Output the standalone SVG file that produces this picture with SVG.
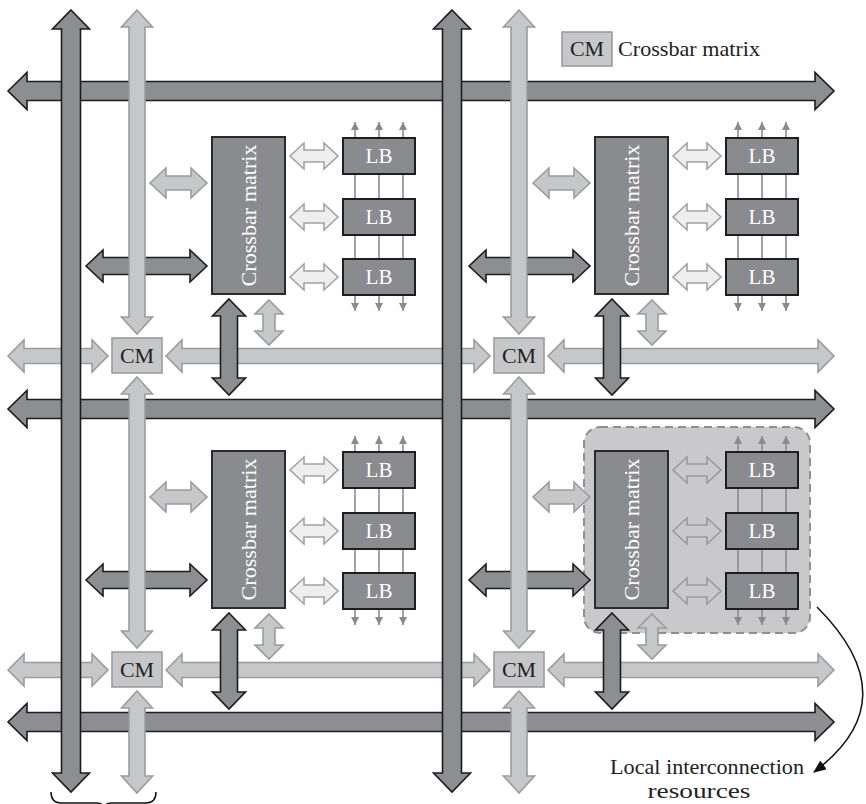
<svg xmlns="http://www.w3.org/2000/svg" width="866" height="804" viewBox="0 0 866 804">
<style>
.bus{fill:#8d8e91;stroke:#1c1c1c;stroke-width:1.6;stroke-linejoin:miter}
.lt{fill:#c6c7c9;stroke:#9b9c9e;stroke-width:1.6}
.wh{fill:#eeeeef;stroke:#a2a2a4;stroke-width:1.6}
.wh4{fill:#c9c9cb;stroke:#9a9a9c;stroke-width:1.6}
.dk{fill:#8d8e91;stroke:#1c1c1c;stroke-width:1.6}
.lbl{stroke:#8b8b8d;stroke-width:1.6;fill:none;marker-start:url(#sm);marker-end:url(#sm)}
.xb{fill:#8a8b8e;stroke:#2a2a2a;stroke-width:2}
.lb{fill:#8a8b8e;stroke:#1e1e1e;stroke-width:2}
.cm{fill:#c6c7c9;stroke:#9b9c9e;stroke-width:1.6}
.tw{font-family:"Liberation Serif",serif;fill:#ffffff;text-anchor:middle}
.tk{font-family:"Liberation Serif",serif;fill:#222222}
</style>
<defs>
<marker id="sm" viewBox="0 0 8 8" refX="8" refY="4" markerWidth="8" markerHeight="8" markerUnits="userSpaceOnUse" orient="auto-start-reverse"><path d="M0,0 L8,4 L0,8 z" fill="#8b8b8d"/></marker>
<marker id="ca" viewBox="0 0 12 10" refX="11" refY="5" markerWidth="13" markerHeight="11" markerUnits="userSpaceOnUse" orient="auto"><path d="M0,0 L12,5 L0,10 z" fill="#111"/></marker>
<g id="blkH">
<path class="lt" d="M150 183 L166 168 L166 176 L191 176 L191 168 L207 183 L191 198 L191 190 L166 190 L166 198 Z"/>
<path class="dk" d="M86 266 L103 250 L103 257.5 L190 257.5 L190 250 L207 266 L190 282 L190 274.5 L103 274.5 L103 282 Z"/>
</g>
<g id="blkV">
<path class="dk" d="M229 299 L245.5 316 L237.5 316 L237.5 378 L245.5 378 L229 395 L212.5 378 L220.5 378 L220.5 316 L212.5 316 Z"/>
<path class="lt" d="M269 300 L283 314 L275 314 L275 331 L283 331 L269 345 L255 331 L263 331 L263 314 L255 314 Z"/>
</g>
<path id="wa" d="M290 0 L304 -13 L304 -6 L324 -6 L324 -13 L338 0 L324 13 L324 6 L304 6 L304 13 Z"/>
<g id="lbl">
<line class="lbl" x1="355" y1="122" x2="355" y2="311"/>
<line class="lbl" x1="379" y1="122" x2="379" y2="311"/>
<line class="lbl" x1="403" y1="122" x2="403" y2="311"/>
</g>
</defs>

<g id="local-region">
<rect x="584" y="427" width="226" height="206" rx="16" fill="#c9c9cb" stroke="#8f8f91" stroke-width="2" stroke-dasharray="8 5"/>
</g>

<g id="connectors">
<path class="bus" d="M8 91 L27 72.5 L27 81.5 L815 81.5 L815 72.5 L834 91 L815 109.5 L815 100.5 L27 100.5 L27 109.5 Z"/>
<path class="bus" d="M8 409 L27 390.5 L27 399.5 L815 399.5 L815 390.5 L834 409 L815 427.5 L815 418.5 L27 418.5 L27 427.5 Z"/>
<path class="bus" d="M8 722 L27 703.5 L27 712.5 L815 712.5 L815 703.5 L834 722 L815 740.5 L815 731.5 L27 731.5 L27 740.5 Z"/>
<use href="#blkH"/>
<use href="#blkH" transform="translate(383,0)"/>
<use href="#blkH" transform="translate(0,314)"/>
<use href="#blkH" transform="translate(383,314)"/>
<use href="#wa" class="wh" transform="translate(0,156)"/>
<use href="#wa" class="wh" transform="translate(0,217)"/>
<use href="#wa" class="wh" transform="translate(0,277)"/>
<use href="#wa" class="wh" transform="translate(383,156)"/>
<use href="#wa" class="wh" transform="translate(383,217)"/>
<use href="#wa" class="wh" transform="translate(383,277)"/>
<use href="#wa" class="wh" transform="translate(0,470)"/>
<use href="#wa" class="wh" transform="translate(0,531)"/>
<use href="#wa" class="wh" transform="translate(0,591)"/>
<use href="#wa" class="wh4" transform="translate(383,470)"/>
<use href="#wa" class="wh4" transform="translate(383,531)"/>
<use href="#wa" class="wh4" transform="translate(383,591)"/>
<use href="#lbl"/>
<use href="#lbl" transform="translate(383,0)"/>
<use href="#lbl" transform="translate(0,314)"/>
<use href="#lbl" transform="translate(383,314)"/>
<path class="lt" d="M137 10 L152.5 27 L145 27 L145 317 L152.5 317 L137 334 L121.5 317 L129 317 L129 27 L121.5 27 Z"/>
<path class="lt" d="M137 377 L152.5 394 L145 394 L145 631 L152.5 631 L137 648 L121.5 631 L129 631 L129 394 L121.5 394 Z"/>
<path class="lt" d="M137 691 L152.5 708 L145 708 L145 776 L152.5 776 L137 793 L121.5 776 L129 776 L129 708 L121.5 708 Z"/>
<path class="lt" d="M519 10 L534.5 27 L527 27 L527 317 L534.5 317 L519 334 L503.5 317 L511 317 L511 27 L503.5 27 Z"/>
<path class="lt" d="M519 377 L534.5 394 L527 394 L527 631 L534.5 631 L519 648 L503.5 631 L511 631 L511 394 L503.5 394 Z"/>
<path class="lt" d="M519 691 L534.5 708 L527 708 L527 776 L534.5 776 L519 793 L503.5 776 L511 776 L511 708 L503.5 708 Z"/>
<path class="lt" d="M8 356 L24 340 L24 348.5 L92 348.5 L92 340 L108 356 L92 372 L92 363.5 L24 363.5 L24 372 Z"/>
<path class="lt" d="M166 356 L182 340 L182 348.5 L474 348.5 L474 340 L490 356 L474 372 L474 363.5 L182 363.5 L182 372 Z"/>
<path class="lt" d="M548 356 L564 340 L564 348.5 L818 348.5 L818 340 L834 356 L818 372 L818 363.5 L564 363.5 L564 372 Z"/>
<path class="lt" d="M8 670 L24 654 L24 662.5 L92 662.5 L92 654 L108 670 L92 686 L92 677.5 L24 677.5 L24 686 Z"/>
<path class="lt" d="M166 670 L182 654 L182 662.5 L474 662.5 L474 654 L490 670 L474 686 L474 677.5 L182 677.5 L182 686 Z"/>
<path class="lt" d="M548 670 L564 654 L564 662.5 L818 662.5 L818 654 L834 670 L818 686 L818 677.5 L564 677.5 L564 686 Z"/>
<use href="#blkV"/>
<use href="#blkV" transform="translate(383,0)"/>
<use href="#blkV" transform="translate(0,314)"/>
<use href="#blkV" transform="translate(383,314)"/>
<path class="bus" d="M71 10 L89.5 29 L80.5 29 L80.5 773 L89.5 773 L71 792 L52.5 773 L61.5 773 L61.5 29 L52.5 29 Z"/>
<path class="bus" d="M452 10 L470.5 29 L461.5 29 L461.5 773 L470.5 773 L452 792 L433.5 773 L442.5 773 L442.5 29 L433.5 29 Z"/>
<path d="M817 607 Q 910 700 814 772" fill="none" stroke="#111" stroke-width="1.5" marker-end="url(#ca)"/>
<path d="M51 792 Q51 803 61 803 L97 803 Q104 803 104 810 M104 810 Q104 803 111 803 L146 803 Q156 803 156 792" fill="none" stroke="#111" stroke-width="1.5"/>
</g>

<g id="xb1"><rect class="xb" x="212" y="137" width="73" height="157"/><text class="tw" font-size="22" textLength="142" lengthAdjust="spacingAndGlyphs" transform="translate(256,215.5) rotate(-90)">Crossbar matrix</text></g>
<g id="xb2"><rect class="xb" x="595" y="137" width="73" height="157"/><text class="tw" font-size="22" textLength="142" lengthAdjust="spacingAndGlyphs" transform="translate(639,215.5) rotate(-90)">Crossbar matrix</text></g>
<g id="xb3"><rect class="xb" x="212" y="451" width="73" height="157"/><text class="tw" font-size="22" textLength="142" lengthAdjust="spacingAndGlyphs" transform="translate(256,529.5) rotate(-90)">Crossbar matrix</text></g>
<g id="xb4"><rect class="xb" x="595" y="451" width="73" height="157"/><text class="tw" font-size="22" textLength="142" lengthAdjust="spacingAndGlyphs" transform="translate(639,529.5) rotate(-90)">Crossbar matrix</text></g>

<g id="lb1a"><rect class="lb" x="343" y="138" width="72" height="36"/><text class="tw" font-size="21" x="379" y="163">LB</text></g>
<g id="lb1b"><rect class="lb" x="343" y="199" width="72" height="36"/><text class="tw" font-size="21" x="379" y="224">LB</text></g>
<g id="lb1c"><rect class="lb" x="343" y="259" width="72" height="36"/><text class="tw" font-size="21" x="379" y="284">LB</text></g>
<g id="lb2a"><rect class="lb" x="726" y="138" width="72" height="36"/><text class="tw" font-size="21" x="762" y="163">LB</text></g>
<g id="lb2b"><rect class="lb" x="726" y="199" width="72" height="36"/><text class="tw" font-size="21" x="762" y="224">LB</text></g>
<g id="lb2c"><rect class="lb" x="726" y="259" width="72" height="36"/><text class="tw" font-size="21" x="762" y="284">LB</text></g>
<g id="lb3a"><rect class="lb" x="343" y="452" width="72" height="36"/><text class="tw" font-size="21" x="379" y="477">LB</text></g>
<g id="lb3b"><rect class="lb" x="343" y="513" width="72" height="36"/><text class="tw" font-size="21" x="379" y="538">LB</text></g>
<g id="lb3c"><rect class="lb" x="343" y="573" width="72" height="36"/><text class="tw" font-size="21" x="379" y="598">LB</text></g>
<g id="lb4a"><rect class="lb" x="726" y="452" width="72" height="36"/><text class="tw" font-size="21" x="762" y="477">LB</text></g>
<g id="lb4b"><rect class="lb" x="726" y="513" width="72" height="36"/><text class="tw" font-size="21" x="762" y="538">LB</text></g>
<g id="lb4c"><rect class="lb" x="726" y="573" width="72" height="36"/><text class="tw" font-size="21" x="762" y="598">LB</text></g>

<g id="cm1"><rect class="cm" x="112" y="338" width="50" height="35"/><text class="tk" font-size="22" text-anchor="middle" x="137" y="363">CM</text></g>
<g id="cm2"><rect class="cm" x="494" y="338" width="50" height="35"/><text class="tk" font-size="22" text-anchor="middle" x="519" y="363">CM</text></g>
<g id="cm3"><rect class="cm" x="112" y="652" width="50" height="35"/><text class="tk" font-size="22" text-anchor="middle" x="137" y="677">CM</text></g>
<g id="cm4"><rect class="cm" x="494" y="652" width="50" height="35"/><text class="tk" font-size="22" text-anchor="middle" x="519" y="677">CM</text></g>

<g id="legend"><rect class="cm" x="562" y="32" width="50" height="34"/><text class="tk" font-size="22" text-anchor="middle" x="587" y="56">CM</text><text class="tk" font-size="22" x="618" y="56" textLength="142" lengthAdjust="spacingAndGlyphs">Crossbar matrix</text></g>

<g id="annotation"><text class="tk" font-size="22" text-anchor="middle" x="707" y="774" textLength="194" lengthAdjust="spacingAndGlyphs">Local interconnection</text><text class="tk" font-size="22" text-anchor="middle" x="699" y="798" textLength="103" lengthAdjust="spacingAndGlyphs">resources</text></g>
</svg>
